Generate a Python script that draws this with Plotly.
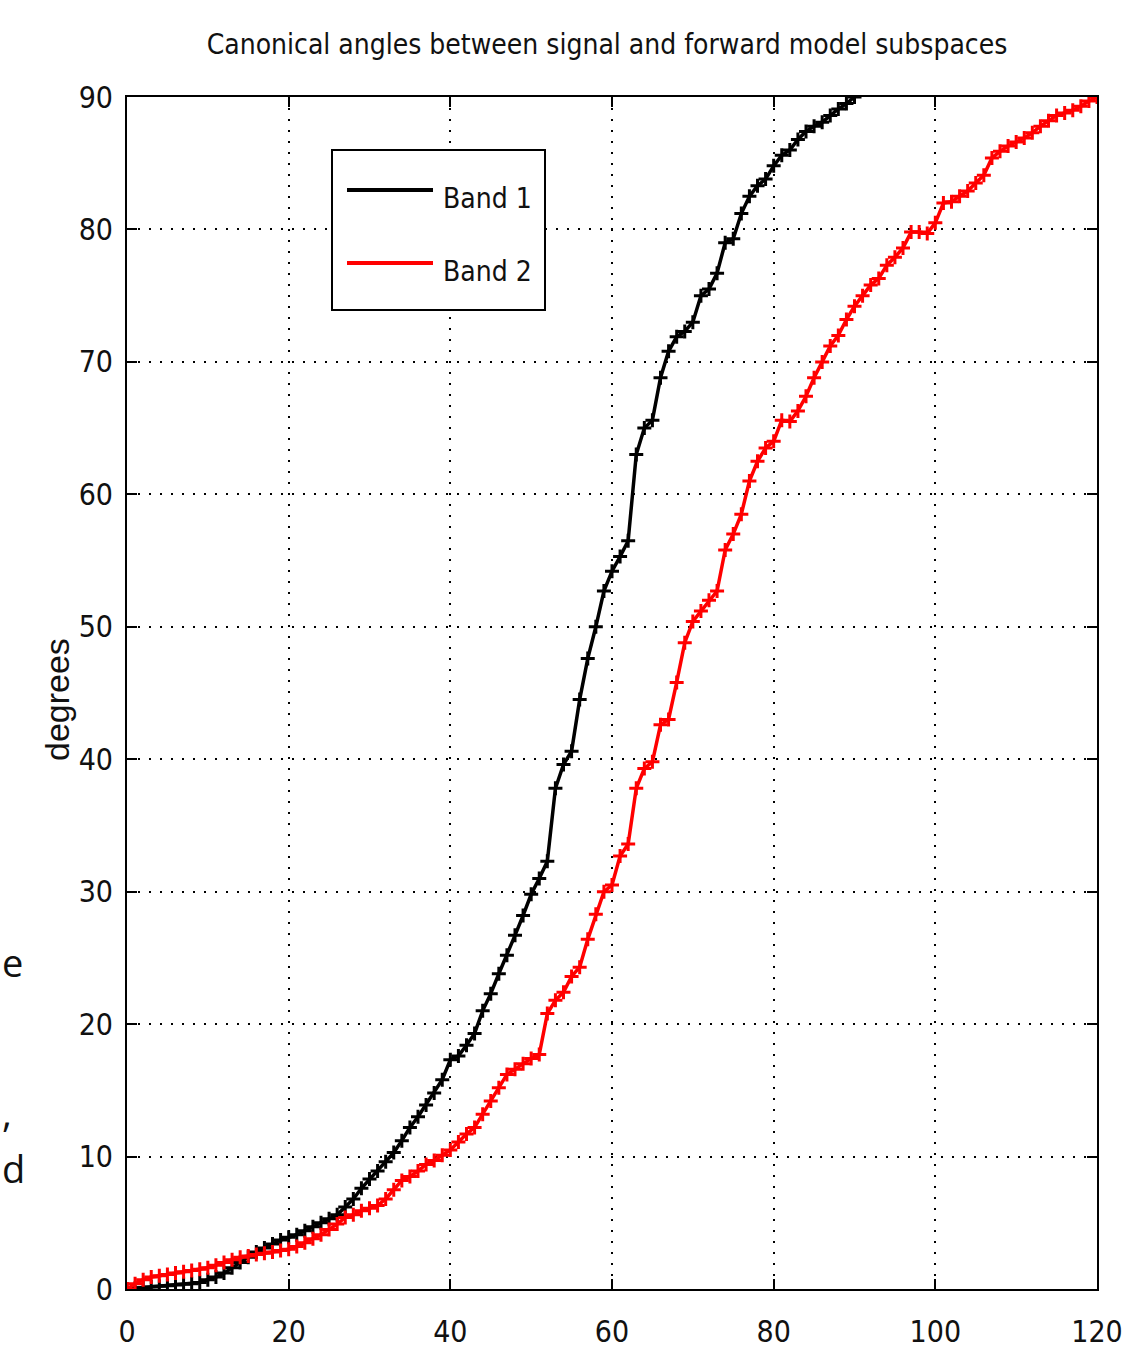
import plotly.graph_objects as go

# ---------------- data ----------------
band1_x = list(range(0, 91))
band1_y = [0.0, 0.05, 0.1, 0.15, 0.2, 0.25, 0.3, 0.35, 0.4, 0.5,
           0.7, 0.9, 1.2, 1.6, 2.0, 2.4, 2.8, 3.1, 3.4, 3.7,
           3.9, 4.1, 4.4, 4.7, 5.0, 5.3, 5.6, 6.2, 6.8, 7.6,
           8.3, 8.9, 9.6, 10.3, 11.2, 12.2, 13.0, 13.9, 14.8, 15.8,
           17.3, 17.6, 18.4, 19.3, 21.0, 22.3, 23.8, 25.2, 26.7, 28.2,
           29.8, 31.0, 32.3, 37.8, 39.6, 40.6, 44.5, 47.6, 50.0, 52.7,
           54.2, 55.3, 56.5, 63.0, 65.0, 65.6, 68.8, 70.8, 71.9, 72.3,
           73.0, 75.0, 75.5, 76.7, 79.0, 79.3, 81.2, 82.5, 83.3, 83.8,
           84.8, 85.6, 86.0, 86.8, 87.4, 87.8, 88.1, 88.6, 89.1, 89.5,
           90.0]

band2_x = list(range(0, 121))
band2_y = [0.0, 0.4, 0.7, 0.9, 1.0, 1.1, 1.2, 1.3, 1.4, 1.5,
           1.6, 1.8, 2.0, 2.2, 2.4, 2.5, 2.6, 2.7, 2.8, 2.9,
           3.0, 3.2, 3.5, 3.8, 4.1, 4.5, 4.9, 5.4, 5.6, 5.9,
           6.1, 6.3, 6.8, 7.5, 8.2, 8.5, 8.9, 9.4, 9.7, 10.1,
           10.5, 11.1, 11.7, 12.2, 13.2, 14.2, 15.2, 16.2, 16.6, 17.0,
           17.4, 17.7, 20.8, 21.8, 22.4, 23.6, 24.3, 26.4, 28.3, 30.0,
           30.5, 32.7, 33.6, 37.8, 39.3, 39.8, 42.6, 43.0, 45.8, 48.8,
           50.4, 51.2, 52.0, 52.7, 55.8, 57.0, 58.5, 61.0, 62.5, 63.5,
           64.0, 65.6, 65.5, 66.3, 67.4, 68.8, 70.0, 71.2, 72.0, 73.2,
           74.2, 75.0, 75.8, 76.3, 77.3, 77.9, 78.6, 79.8, 79.8, 79.7,
           80.5, 82.0, 82.1, 82.5, 82.9, 83.5, 84.1, 85.4, 85.9, 86.3,
           86.6, 86.9, 87.3, 87.8, 88.2, 88.6, 88.8, 89.0, 89.3, 89.7,
           90.0]

series_names = ["Band 1", "Band 2"]
series_colors = ["#000000", "#ff0000"]
x_ticks = [0, 20, 40, 60, 80, 100, 120]
y_ticks = [0, 10, 20, 30, 40, 50, 60, 70, 80, 90]
title_text = "Canonical angles between signal and forward model subspaces"
y_label = "degrees"

# ---------------- layout geometry ----------------
W, H = 1143, 1353
L, R, T, B = 127, 1097, 97, 1289   # plot area in pixels

def px_x(p):
    return (p - L) / (R - L)

def px_y(p):
    return (B - p) / (B - T)

NARROW = "Liberation Sans Narrow, DejaVu Sans Condensed, Liberation Sans, sans-serif"

fig = go.Figure()
for xs, ys, name, col in [(band1_x, band1_y, series_names[0], series_colors[0]),
                          (band2_x, band2_y, series_names[1], series_colors[1])]:
    fig.add_trace(go.Scatter(
        x=xs, y=ys, name=name, mode="lines+markers",
        line=dict(color=col, width=3.5),
        marker=dict(symbol="cross-thin", size=10, color=col,
                    line=dict(color=col, width=3)),
        showlegend=False,
    ))

axis_common = dict(
    showline=True, linecolor="black", linewidth=2, mirror="ticks",
    ticks="inside", ticklen=10, tickwidth=2, tickcolor="black",
    showgrid=True, gridcolor="black", gridwidth=2, griddash="2px,9px",
    zeroline=False, automargin=False,
    tickfont=dict(family=NARROW, size=30, color="#111111"),
)

fig.update_xaxes(range=[0, 120], tickvals=x_ticks, ticklabelstandoff=15, **axis_common)
fig.update_yaxes(range=[0, 90], tickvals=y_ticks, ticklabelstandoff=6, **axis_common)

# custom legend (box, line samples, labels)
shapes = [dict(type="rect", xref="paper", yref="paper",
               x0=px_x(332), x1=px_x(545), y0=px_y(310), y1=px_y(150),
               line=dict(color="black", width=2), fillcolor="white", layer="above")]
annotations = []
for i, (name, col) in enumerate(zip(series_names, series_colors)):
    ly = [190, 263][i]
    ty = [199, 271][i]
    shapes.append(dict(type="line", xref="paper", yref="paper",
                       x0=px_x(347), x1=px_x(433), y0=px_y(ly), y1=px_y(ly),
                       line=dict(color=col, width=4), layer="above"))
    annotations.append(dict(xref="paper", yref="paper", x=px_x(441), y=px_y(ty),
                            text=name, showarrow=False, xanchor="left", yanchor="middle",
                            font=dict(family=NARROW, size=28, color="#111111")))

# y-axis label
annotations.append(dict(xref="paper", yref="paper", x=px_x(57), y=px_y(700),
                        text=y_label, showarrow=False, textangle=-90,
                        xanchor="center", yanchor="middle",
                        font=dict(family="Liberation Sans, Arial, sans-serif", size=34,
                                  color="#111111")))

# fragments of neighbouring slide text at the left edge
for txt, cy in [("e", 962), (",", 1112), ("d", 1168)]:
    annotations.append(dict(xref="paper", yref="paper", x=px_x(0), y=px_y(cy),
                            text=txt, showarrow=False, xanchor="left", yanchor="middle",
                            font=dict(family="Open Sans, sans-serif", size=38, color="#111111")))

fig.update_layout(
    width=W, height=H,
    margin=dict(l=L, r=W - R, t=T, b=H - B),
    paper_bgcolor="white", plot_bgcolor="white",
    title=dict(text=title_text, x=607 / W, xanchor="center",
               y=1 - 44 / H, yanchor="middle",
               font=dict(family=NARROW, size=28, color="#111111")),
    shapes=shapes, annotations=annotations,
)

fig.write_html("out.html")
